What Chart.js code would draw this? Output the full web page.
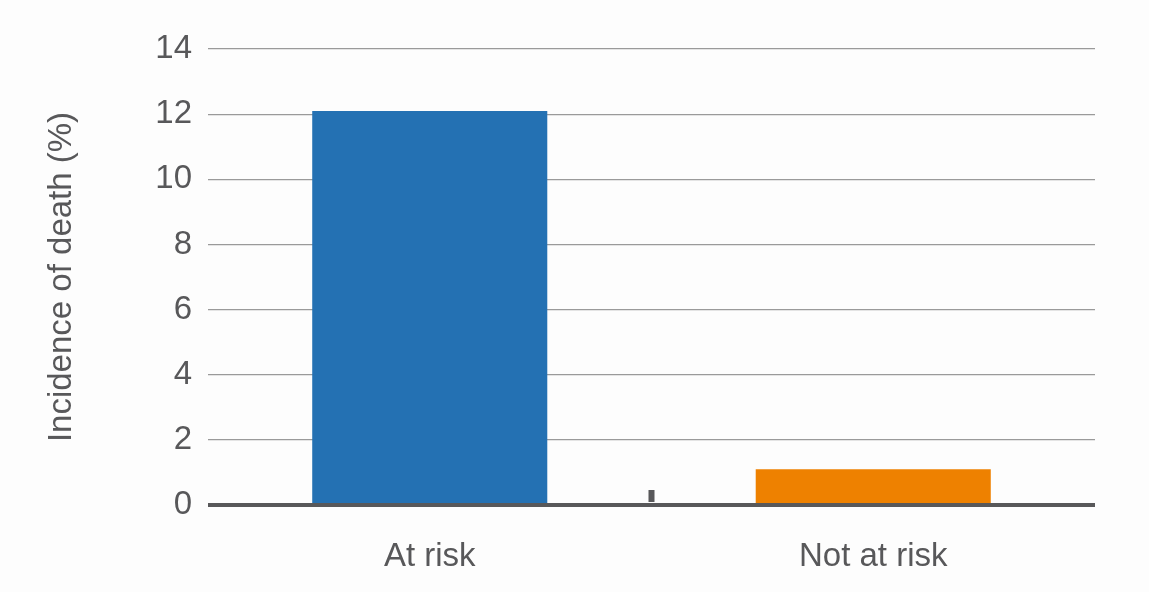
<!DOCTYPE html>
<html>
<head>
<meta charset="utf-8">
<script src="https://cdn.jsdelivr.net/npm/chart.js@4.4.1/dist/chart.umd.min.js"></script>
<style>
  html, body { margin: 0; padding: 0; background: #fdfdfd; }
  #wrap { width: 1149px; height: 592px; position: relative; }
</style>
</head>
<body>
<div id="wrap"><canvas id="chart"></canvas></div>
<script>
// data
const categories = ['At risk', 'Not at risk'];
const incidence = [12.1, 1.1];
const barColors = ['#2471b3', '#ee8100'];
const yTicks = [0, 2, 4, 6, 8, 10, 12, 14];

const FONT = '"Liberation Sans", Arial, sans-serif';
const TEXT = '#58585a';

// small dark mark at the boundary between the two categories
const dividerMark = {
    id: 'dividerMark',
    afterDatasetsDraw(chart) {
        const x = chart.scales.x, y = chart.scales.y;
        const mid = (x.getPixelForValue(0) + x.getPixelForValue(1)) / 2;
        const base = y.getPixelForValue(0);
        const ctx = chart.ctx;
        ctx.save();
        ctx.fillStyle = '#58585a';
        ctx.fillRect(mid - 3, base - 15, 6, 12);
        ctx.restore();
    }
};

new Chart(document.getElementById('chart'), {
    type: 'bar',
    data: {
        labels: categories,
        datasets: [{
            data: incidence,
            backgroundColor: barColors,
            borderWidth: 0,
            barPercentage: 0.53,
            categoryPercentage: 1
        }]
    },
    options: {
        responsive: true,
        maintainAspectRatio: false,
        animation: false,
        layout: { padding: { top: 49, right: 54, bottom: 0, left: 42 } },
        plugins: { legend: { display: false }, tooltip: { enabled: false } },
        scales: {
            x: {
                grid: { display: false },
                border: { display: false },
                ticks: { color: TEXT, font: { family: FONT, size: 33 }, padding: 24 },
                afterFit(scale) { scale.height = 87; }
            },
            y: {
                min: 0,
                max: 14,
                afterBuildTicks(scale) { scale.ticks = yTicks.map(v => ({ value: v })); },
                grid: {
                    color: c => c.tick && c.tick.value === 0 ? '#58585a' : '#9a9a9a',
                    lineWidth: c => c.tick && c.tick.value === 0 ? 4 : 1.2,
                    drawTicks: false
                },
                border: { display: false },
                ticks: { color: TEXT, font: { family: FONT, size: 33 }, padding: 16 },
                title: {
                    display: true,
                    text: 'Incidence of death (%)',
                    color: TEXT,
                    font: { family: FONT, size: 33 },
                    padding: { top: 0, bottom: 0 }
                },
                afterFit(scale) { scale.width = 166; }
            }
        }
    },
    plugins: [dividerMark]
});
</script>
</body>
</html>
